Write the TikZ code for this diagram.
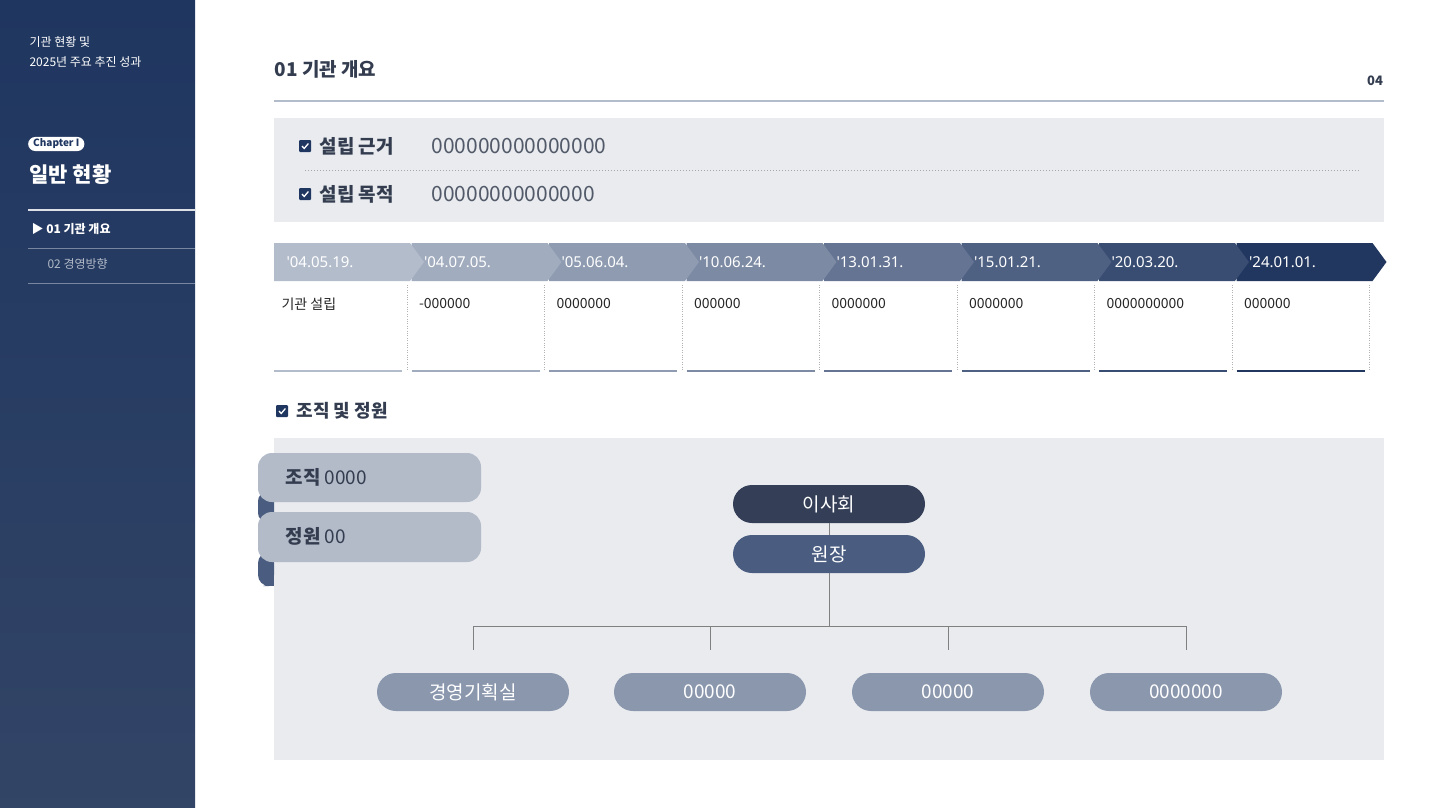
\documentclass[tikz,border=0pt]{standalone}
\usepackage{fontspec}
\setmainfont{Noto Sans CJK KR}[Ligatures=ResetAll]
\newfontfamily\lat{Noto Sans}[Ligatures=ResetAll]
\usetikzlibrary{calc}
\definecolor{navy}{HTML}{1F3660}
\definecolor{ink}{HTML}{333D4F}
\definecolor{panel}{HTML}{E9EBEF}
\definecolor{rib}{HTML}{B3BBC9}
\definecolor{curl}{HTML}{4A5D80}
\definecolor{boss}{HTML}{343F57}
\definecolor{dept}{HTML}{8A97AD}
\definecolor{t1}{HTML}{B3BCCB}
\definecolor{t2}{HTML}{A1ACBE}
\definecolor{t3}{HTML}{8E9BB1}
\definecolor{t4}{HTML}{7C8AA3}
\definecolor{t5}{HTML}{657493}
\definecolor{t6}{HTML}{4F6183}
\definecolor{t7}{HTML}{394C72}
\definecolor{t8}{HTML}{22375F}
\tikzset{
  chk/.style={fill=navy,minimum size=12pt,inner sep=0pt,rounded corners=1pt},
  pill/.style={rounded corners=19pt,minimum width=192pt,minimum height=38pt,inner sep=0pt,text=white,font=\fontsize{19}{19}\selectfont},
}
\newcommand{\tick}[1]{\node[chk] at (#1) {}; \draw[white,line width=1.3pt] ($(#1)+(-3,0)$) -- ++(2.2,2.5) -- ++(4.2,-5);}
\begin{document}
\begin{tikzpicture}[x=1pt,y=-1pt]
\useasboundingbox (0,0) rectangle (1436,808);
\fill[white] (0,0) rectangle (1436,808);
% sidebar
\shade[top color=navy,bottom color=navy!80!gray] (0,0) rectangle (195,808);
\node[anchor=west,text=white,font=\fontsize{12}{12}\selectfont] (s1) at (26,42) {기관 현황 및};
\node[anchor=west,text=white,font=\fontsize{12}{12}\selectfont] (s2) at (26,62) {2025년 주요 추진 성과};
\node[anchor=west,fill=white,text=navy,rounded corners=7pt,inner xsep=5pt,inner ysep=2pt,font=\bfseries\fontsize{10}{10}\selectfont] (ch) at (28,144) {Chapter I};
\node[anchor=west,text=white,font=\bfseries\fontsize{21}{21}\selectfont] (gh) at (26,175) {일반 현황};
\draw[white!85!navy,line width=1.5pt] (28,210) -- (195,210);
\node[anchor=west,text=white,font=\bfseries\fontsize{12}{12}\selectfont] (m1) at (28,229) {▶\ 01 기관 개요};
\draw[white!40!navy] (28,248) -- (195,248);
\node[anchor=west,text=white!65!navy,font=\fontsize{12}{12}\selectfont] (m2) at (44,264) {02 경영방향};
\draw[white!40!navy] (28,283) -- (195,283);
% header
\node[anchor=west,text=ink,font=\bfseries\fontsize{19}{19}\selectfont] (ttl) at (271,69) {01 기관 개요};
\node[text=ink,font=\bfseries\fontsize{13}{13}\selectfont] (pg) at (1375,81) {04};
\draw[t1,line width=1.5pt] (274,101) -- (1384,101);
% info box
\fill[panel] (274,118) rectangle (1384,222);
\tick{305,146}
\tick{305,194}
\node[anchor=west,text=ink,font=\bfseries\fontsize{19}{19}\selectfont] (b1) at (316,146) {설립 근거};
\node[anchor=west,text=ink,font=\bfseries\fontsize{19}{19}\selectfont] (b2) at (316,194) {설립 목적};
\node[anchor=west,text=ink!85,font=\fontsize{21}{21}\selectfont] (v1) at (428,146) {000000000000000};
\node[anchor=west,text=ink!85,font=\fontsize{21}{21}\selectfont] (v2) at (428,194) {00000000000000};
\draw[gray!70,dotted,line width=1pt] (305,170) -- (1360,170);
% timeline (drawn right to left so each tip shows over the next)
\foreach \i/\d/\t/\c in {7/24.01.01./000000/t8,6/20.03.20./0000000000/t7,5/15.01.21./0000000/t6,4/13.01.31./0000000/t5,3/10.06.24./000000/t4,2/05.06.04./0000000/t3,1/04.07.05./-000000/t2,0/04.05.19./기관 설립/t1}{
  \pgfmathsetmacro{\xs}{274+137.5*\i}
  \fill[\c] (\xs,243) -- ({\xs+136},243) -- ({\xs+150},262) -- ({\xs+136},281) -- (\xs,281) -- cycle;
  \node[anchor=west,text=white,font=\lat\fontsize{15}{15}\selectfont] at ({\xs+9},262) {{\char39}\d};
  \node[anchor=west,text=black!85,font=\fontsize{14}{14}\selectfont] at ({\xs+4},304) {\t};
  \draw[\c,line width=2.5pt] (\xs,371) -- ({\xs+128},371);
  \draw[gray!60,dotted] ({\xs+133},285) -- ({\xs+133},371);
}
% section
\tick{282,411}
\node[anchor=west,text=ink,font=\bfseries\fontsize{18}{18}\selectfont] (sec) at (293,411) {조직 및 정원};
\fill[panel] (274,438) rectangle (1384,760);
% ribbons
\fill[curl,rounded corners=9pt] (258,492) rectangle (274,522);
\fill[curl] (266,492) rectangle (274,522);
\fill[curl,rounded corners=11pt] (258,552) rectangle (274,586);
\fill[curl] (266,552) rectangle (274,586);
\fill[rib,rounded corners=14pt] (258,453) rectangle (481,502);
\fill[rib,rounded corners=14pt] (258,512) rectangle (481,562);
\node[anchor=west,text=ink,font=\fontsize{19}{19}\selectfont] (r1) at (282,477) {\textbf{조직} 0000};
\node[anchor=west,text=ink,font=\fontsize{19}{19}\selectfont] (r2) at (282,536) {\textbf{정원} 00};
% org chart
\node[pill,fill=boss] (bd) at (829,504) {이사회};
\node[pill,fill=curl] (hd) at (829,554) {원장};
\node[pill,fill=dept] (d1) at (473,692) {경영기획실};
\node[pill,fill=dept] (d2) at (710,692) {00000};
\node[pill,fill=dept] (d3) at (948,692) {00000};
\node[pill,fill=dept] (d4) at (1186,692) {0000000};
\draw[gray] (bd) -- (hd);
\coordinate (j) at (829,626);
\draw[gray] (hd) -- (j);
\draw[gray] (473,650) -- (473,626) -- (1186,626) -- (1186,650);
\draw[gray] (710,626) -- (710,650);
\draw[gray] (948,626) -- (948,650);
\end{tikzpicture}
\end{document}
